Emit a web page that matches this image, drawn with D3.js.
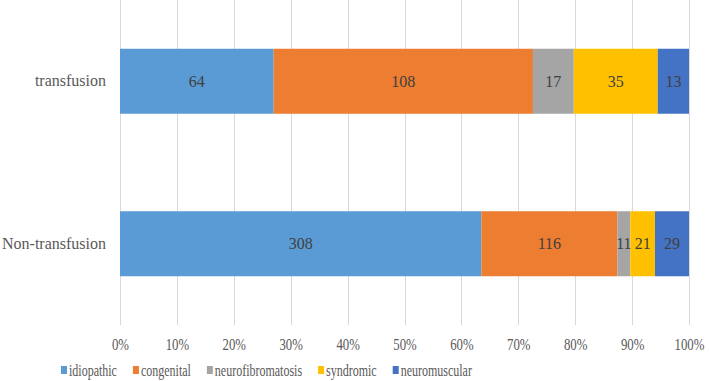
<!DOCTYPE html>
<html>
<head>
<meta charset="utf-8">
<script src="https://cdn.jsdelivr.net/npm/d3@7"></script>
<style>
  body { margin: 0; background: #fff; }
</style>
</head>
<body>
<div id="chart"></div>
<script>
// categories and series
var groups = ["transfusion", "Non-transfusion"];
var seriesNames = ["idiopathic", "congenital", "neurofibromatosis", "syndromic", "neuromuscular"];
var colors = ["#5b9bd5", "#ed7d31", "#a5a5a5", "#ffc000", "#4472c4"];
var idiopathic = [64, 308];
var congenital = [108, 116];
var neurofibromatosis = [17, 11];
var syndromic = [35, 21];
var neuromuscular = [13, 29];
var tickValues = [0, 0.1, 0.2, 0.3, 0.4, 0.5, 0.6, 0.7, 0.8, 0.9, 1];

var FONT = "'Liberation Serif', 'DejaVu Serif', 'Times New Roman', Times, serif";

var W = 709, H = 381;
var margin = {top: 0, right: 20, bottom: 56, left: 120},
    width = W - margin.left - margin.right,
    height = H - margin.top - margin.bottom;

var svg = d3.select("#chart").append("svg")
    .attr("width", W).attr("height", H)
    .style("font-family", FONT)
  .append("g")
    .attr("transform", "translate(" + margin.left + "," + margin.top + ")");

// build table
var seriesVals = [idiopathic, congenital, neurofibromatosis, syndromic, neuromuscular];
var table = groups.map(function(g, i) {
  var row = {group: g};
  seriesNames.forEach(function(s, j) { row[s] = seriesVals[j][i]; });
  return row;
});

var stack = d3.stack().keys(seriesNames).offset(d3.stackOffsetExpand);
var stacked = stack(table);

var x = d3.scaleLinear().domain([0, 1]).range([0, width]);
var y = d3.scaleBand().domain(groups).range([0, height]).paddingInner(0.6).paddingOuter(0.3);

// gridlines
svg.append("g").selectAll("line")
  .data(tickValues).enter().append("line")
    .attr("x1", function(d) { return Math.round(x(d)) + 0.5; })
    .attr("x2", function(d) { return Math.round(x(d)) + 0.5; })
    .attr("y1", 0).attr("y2", height)
    .attr("stroke", "#d9d9d9").attr("stroke-width", 1);

// bars
var layer = svg.selectAll(".layer")
  .data(stacked).enter().append("g")
    .attr("fill", function(d, i) { return colors[i]; });

layer.selectAll("rect")
  .data(function(d) { return d; }).enter().append("rect")
    .attr("x", function(d) { return x(d[0]); })
    .attr("y", function(d) { return y(d.data.group); })
    .attr("width", function(d) { return x(d[1]) - x(d[0]); })
    .attr("height", y.bandwidth());

// data labels
stacked.forEach(function(s) {
  svg.append("g").selectAll("text")
    .data(s).enter().append("text")
      .attr("x", function(d) { return (x(d[0]) + x(d[1])) / 2; })
      .attr("y", function(d) { return y(d.data.group) + y.bandwidth() / 2; })
      .attr("dy", "0.35em")
      .attr("text-anchor", "middle")
      .style("font-family", FONT)
      .style("font-size", "16px")
      .attr("fill", "#404040")
      .text(function(d) { return d.data[s.key]; });
});

// x axis
var xAxis = svg.append("g")
    .attr("transform", "translate(0," + height + ")")
    .call(d3.axisBottom(x).tickValues(tickValues).tickFormat(d3.format(".0%")).tickSize(0).tickPadding(14));
xAxis.select(".domain").remove();
xAxis.selectAll("text")
    .style("font-family", FONT)
    .style("font-size", "16px")
    .attr("fill", "#595959")
    .attr("transform", "scale(0.8,1)");

// y axis
var yAxis = svg.append("g")
    .call(d3.axisLeft(y).tickSize(0).tickPadding(14));
yAxis.select(".domain").remove();
yAxis.selectAll("text")
    .style("font-family", FONT)
    .style("font-size", "16px")
    .attr("fill", "#595959");

// legend
var legend = d3.select("svg").append("g")
    .attr("transform", "translate(61,370)");
var lx = 0;
seriesNames.forEach(function(s, i) {
  var item = legend.append("g").attr("transform", "translate(" + lx + ",0)");
  item.append("rect")
      .attr("x", 0).attr("y", -4)
      .attr("width", 6).attr("height", 8)
      .attr("fill", colors[i]);
  var t = item.append("text")
      .attr("x", 0).attr("y", 0)
      .attr("dy", "0.35em")
      .style("font-family", FONT)
      .style("font-size", "16px")
      .attr("fill", "#595959")
      .attr("transform", "translate(8,0) scale(0.75,1)")
      .text(s);
  lx += 8 + t.node().getComputedTextLength() * 0.75 + 16;
});
</script>
</body>
</html>
